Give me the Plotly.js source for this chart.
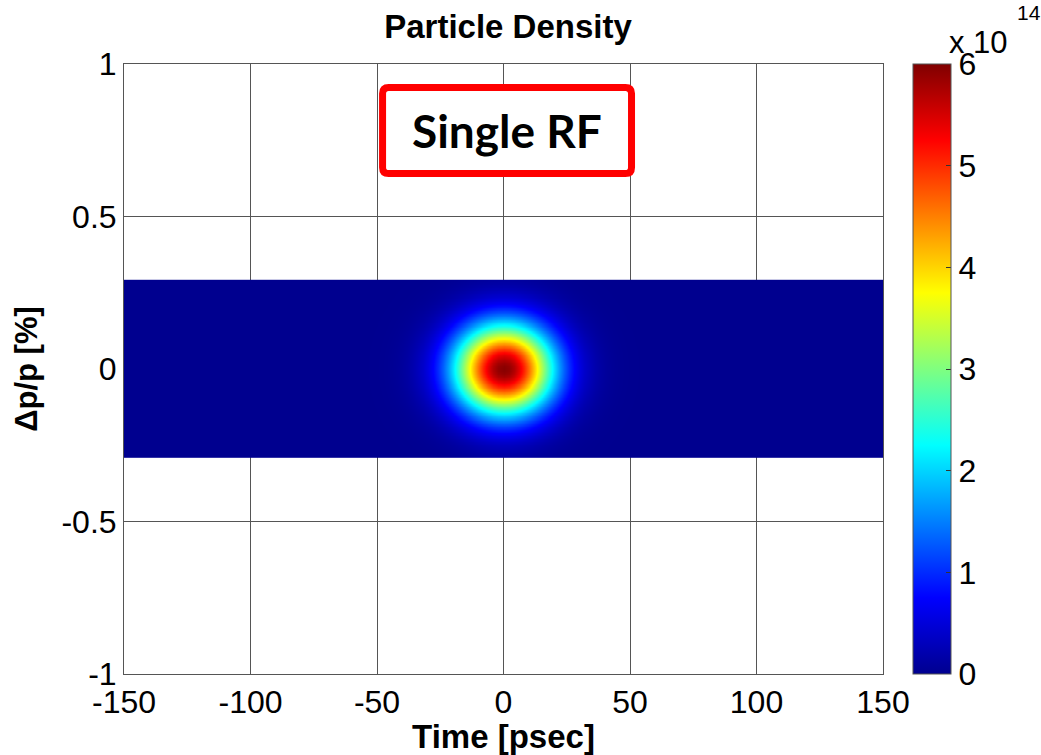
<!DOCTYPE html>
<html>
<head>
<meta charset="utf-8">
<script src="https://cdn.plot.ly/plotly-3.0.1.min.js"></script>
<style>html,body{margin:0;padding:0;background:#fff;}#chart{width:1041px;height:755px;}</style>
</head>
<body>
<div id="chart"></div>
<script>
// ---- data ----
const xTicks = [-150, -100, -50, 0, 50, 100, 150];
const yTicks = [-1, -0.5, 0, 0.5, 1];
const cbTicks = [0, 1, 2, 3, 4, 5, 6];
const timeRange = [-150, 150];         // psec, extent of computed map
const dpRange = [-0.29, 0.29];         // %, extent of computed map
const bunchCenter = [0, 0];            // [time psec, dp/p %]
const bunchSigma = [13.8, 0.104];
const bunchPeak = [5.95];              // x 1e14
const timeStep = [2];
const dpStep = [0.005];

// ---- build grid ----
const xs = [];
for (let t = timeRange[0]; t <= timeRange[1] + 1e-9; t += timeStep[0]) xs.push(+t.toFixed(4));
const ys = [];
for (let d = dpRange[0]; d <= dpRange[1] + 1e-9; d += dpStep[0]) ys.push(+d.toFixed(5));
const z = ys.map(d => xs.map(t => {
  const u = (t - bunchCenter[0]) / bunchSigma[0];
  const v = (d - bunchCenter[1]) / bunchSigma[1];
  return bunchPeak[0] * Math.exp(-0.5 * (u * u + v * v));
}));

const jet = [
  [0, 'rgb(0,0,143)'],
  [0.125, 'rgb(0,0,255)'],
  [0.375, 'rgb(0,255,255)'],
  [0.625, 'rgb(255,255,0)'],
  [0.875, 'rgb(255,0,0)'],
  [1, 'rgb(128,0,0)']
];

const FONT = 'Liberation Sans, Arial, sans-serif';

const trace = {
  type: 'heatmap', x: xs, y: ys, z: z,
  colorscale: jet, zmin: 0, zmax: 6, zsmooth: 'best',
  hoverinfo: 'skip',
  colorbar: {
    x: 1.0395, xanchor: 'left', xref: 'paper',
    y: 0.5, yanchor: 'middle', len: 1, lenmode: 'fraction',
    thickness: 38, thicknessmode: 'pixels',
    xpad: 0, ypad: 0,
    outlinewidth: 1, outlinecolor: '#555',
    tickvals: cbTicks, ticktext: cbTicks.map(String),
    ticks: 'inside', ticklen: 5, tickcolor: '#333',
    tickfont: {family: FONT, size: 32, color: '#000'}
  }
};

// rounded red box around "Single RF" (data coordinates)
const bx0 = -47.8, bx1 = 50.6, by0 = 0.641, by1 = 0.923;
const rx = 2.4, ry = 0.02;
const boxPath = `M ${bx0+rx},${by1} L ${bx1-rx},${by1} Q ${bx1},${by1} ${bx1},${by1-ry} L ${bx1},${by0+ry} Q ${bx1},${by0} ${bx1-rx},${by0} L ${bx0+rx},${by0} Q ${bx0},${by0} ${bx0},${by0+ry} L ${bx0},${by1-ry} Q ${bx0},${by1} ${bx0+rx},${by1} Z`;

const layout = {
  width: 1041, height: 755,
  margin: {l: 124, r: 158, t: 64, b: 81},
  paper_bgcolor: '#fff', plot_bgcolor: '#fff',
  showlegend: false,
  title: {text: '<b>Particle Density</b>', font: {family: FONT, size: 33, color: '#000'},
          x: 0.488, xref: 'container', xanchor: 'center', y: 0.965, yref: 'container', yanchor: 'middle'},
  xaxis: {
    range: [-150, 150], tickvals: xTicks, ticktext: xTicks.map(String),
    showgrid: true, gridcolor: '#555', gridwidth: 1, zeroline: false,
    showline: true, linecolor: '#555', linewidth: 1, mirror: true,
    ticks: '', tickfont: {family: FONT, size: 32, color: '#000'},
    title: {text: '<b>Time [psec]</b>', font: {family: FONT, size: 33, color: '#000'}, standoff: 2},
    layer: 'above traces'
  },
  yaxis: {
    range: [-1, 1], tickvals: yTicks, ticktext: yTicks.map(String),
    showgrid: true, gridcolor: '#555', gridwidth: 1, zeroline: false,
    showline: true, linecolor: '#555', linewidth: 1, mirror: true,
    ticks: '', tickfont: {family: FONT, size: 32, color: '#000'},
    title: {text: '<b>Δp/p [%]</b>', font: {family: FONT, size: 31, color: '#000'}, standoff: 14},
    layer: 'above traces'
  },
  shapes: [
    {type: 'path', xref: 'x', yref: 'y', path: boxPath, line: {color: 'rgb(255,0,0)', width: 7}, fillcolor: 'rgba(255,255,255,1)', layer: 'above'}
  ],
  annotations: [
    {xref: 'x', yref: 'y', x: 1.4, y: 0.782, text: '<b>Single RF</b>', showarrow: false,
     font: {family: 'Lato, Open Sans, sans-serif', size: 46, color: '#000'}, xanchor: 'center', yanchor: 'middle'},
    {xref: 'paper', yref: 'paper', x: 1.0845, y: 1.036, xanchor: 'left', yanchor: 'middle',
     text: 'x 10', showarrow: false, font: {family: FONT, size: 31, color: '#000'}},
    {xref: 'paper', yref: 'paper', x: 1.1735, y: 1.084, xanchor: 'left', yanchor: 'middle',
     text: '14', showarrow: false, font: {family: FONT, size: 21, color: '#000'}}
  ]
};

Plotly.newPlot('chart', [trace], layout, {displayModeBar: false, staticPlot: true});
</script>
</body>
</html>
